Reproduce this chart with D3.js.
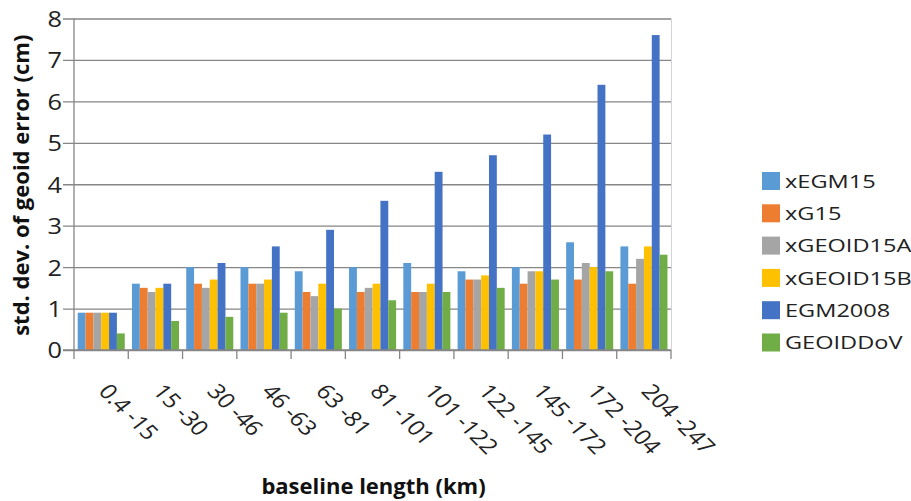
<!DOCTYPE html>
<html><head><meta charset="utf-8">
<script src="https://cdn.jsdelivr.net/npm/d3@7"></script>
<style>body{margin:0;background:#fff;} svg{display:block;}</style>
</head><body>
<svg id="c" width="911" height="501"></svg>
<script>
const categories = ["0.4 -15","15 -30","30 -46","46 -63","63 -81","81 -101","101 -122","122 -145","145 -172","172 -204","204 -247"];
const seriesNames = ["xEGM15","xG15","xGEOID15A","xGEOID15B","EGM2008","GEOIDDoV"];
const xEGM15    = [0.9,1.6,2.0,2.0,1.9,2.0,2.1,1.9,2.0,2.6,2.5];
const xG15      = [0.9,1.5,1.6,1.6,1.4,1.4,1.4,1.7,1.6,1.7,1.6];
const xGEOID15A = [0.9,1.4,1.5,1.6,1.3,1.5,1.4,1.7,1.9,2.1,2.2];
const xGEOID15B = [0.9,1.5,1.7,1.7,1.6,1.6,1.6,1.8,1.9,2.0,2.5];
const EGM2008   = [0.9,1.6,2.1,2.5,2.9,3.6,4.3,4.7,5.2,6.4,7.6];
const GEOIDDoV  = [0.4,0.7,0.8,0.9,1.0,1.2,1.4,1.5,1.7,1.9,2.3];
const yTicks = [0,1,2,3,4,5,6,7,8];
const colors = ["#5B9BD5","#ED7D31","#A5A5A5","#FFC000","#4472C4","#70AD47"];
const seriesValues = [xEGM15,xG15,xGEOID15A,xGEOID15B,EGM2008,GEOIDDoV];

const svg = d3.select("#c");
const pLeft = 74, pRight = 671, pTop = 18.5, pBottom = 350;
const font = "'Open Sans', sans-serif";

const x0 = d3.scaleBand().domain(categories).range([pLeft, pRight]).padding(0);
const bw = x0.bandwidth();
const x1 = d3.scaleBand().domain(seriesNames).range([bw*0.068, bw*0.935]).padding(0);
const y = d3.scaleLinear().domain([0,8]).range([pBottom, pTop]);
const color = d3.scaleOrdinal().domain(seriesNames).range(colors);

// right border
svg.append("line").attr("x1", pRight+0.5).attr("x2", pRight+0.5).attr("y1", y(8)).attr("y2", pBottom)
  .attr("stroke", "#d4d4d4").attr("stroke-width", 1);

// gridlines + y ticks
const yAxis = d3.axisLeft(y).tickValues(yTicks).tickSize(-(pRight-pLeft)).tickSizeOuter(0).tickPadding(14);
const gy = svg.append("g").attr("transform", `translate(${pLeft},0)`).call(yAxis);
gy.select(".domain").remove();
gy.selectAll(".tick line").attr("stroke", "#868686").attr("stroke-width", 1.3).attr("x1", -11);
gy.selectAll(".tick text").remove();
gy.selectAll(".tick").append("text")
  .attr("text-anchor", "end").attr("dy", "0.36em")
  .attr("transform", "translate(-12,0) scale(1.15,1)")
  .attr("fill", "#222").style("font-family", font).style("font-size", "22px")
  .text(d => d);

// bars
const groups = svg.append("g").selectAll("g").data(categories).join("g")
  .attr("transform", d => `translate(${x0(d)},0)`);
groups.selectAll("rect").data((c, i) => seriesNames.map((s, j) => ({s, v: seriesValues[j][i]})))
  .join("rect")
  .attr("x", d => x1(d.s)).attr("width", x1.bandwidth())
  .attr("y", d => y(d.v)).attr("height", d => pBottom - y(d.v))
  .attr("fill", d => color(d.s));

// y axis line
svg.append("line").attr("x1", pLeft).attr("x2", pLeft).attr("y1", y(8)).attr("y2", pBottom)
  .attr("stroke", "#868686").attr("stroke-width", 1.3);

// x axis
const xAxisLine = svg.append("g");
xAxisLine.append("line").attr("x1", pLeft-11).attr("x2", pRight).attr("y1", pBottom).attr("y2", pBottom)
  .attr("stroke", "#868686").attr("stroke-width", 1.3);
const bounds = categories.map(c => x0(c)).concat([x0(categories[categories.length-1]) + bw]);
xAxisLine.selectAll("line.t").data(bounds).join("line").attr("class","t")
  .attr("x1", d => d).attr("x2", d => d).attr("y1", pBottom).attr("y2", pBottom + 9)
  .attr("stroke", "#868686").attr("stroke-width", 1.3);

// x labels
svg.append("g").selectAll("text").data(categories).join("text")
  .attr("transform", d => `translate(${x0(d) + bw/2 + 3},${pBottom + 37}) scale(1.15,1) rotate(49)`)
  .attr("text-anchor", "start").attr("dy", "0.36em")
  .attr("fill", "#222").style("font-family", font).style("font-size", "21px")
  .text(d => d);

// axis titles
svg.append("text").attr("transform", `translate(${(pLeft+pRight)/2 + 1},494)`)
  .attr("text-anchor", "middle").attr("fill", "#111")
  .style("font-family", font).style("font-weight", "bold").style("font-size", "22px")
  .text("baseline length (km)");
svg.append("text").attr("transform", `translate(29,${(pTop+pBottom)/2 + 1}) rotate(-90)`)
  .attr("text-anchor", "middle").attr("fill", "#111")
  .style("font-family", font).style("font-weight", "bold").style("font-size", "22px")
  .text("std. dev. of geoid error (cm)");

// legend
const leg = svg.append("g").selectAll("g").data(seriesNames).join("g")
  .attr("transform", (d, i) => `translate(762,${181 + i*32.3})`);
leg.append("rect").attr("x", 0).attr("y", -9).attr("width", 18).attr("height", 18)
  .attr("fill", d => color(d));
leg.append("text").attr("transform", "translate(23,0) scale(1.24,1)").attr("dy", "0.36em")
  .attr("fill", "#222").style("font-family", font).style("font-size", "19px")
  .text(d => d);
</script>
</body></html>
